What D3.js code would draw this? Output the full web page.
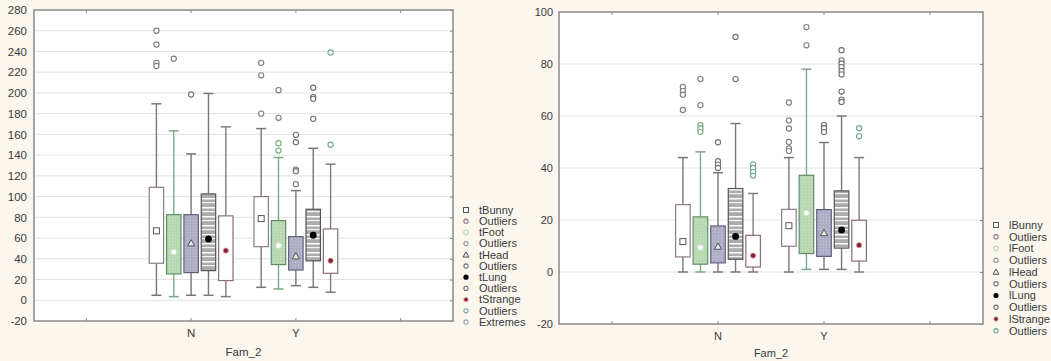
<!DOCTYPE html>
<html><head><meta charset="utf-8">
<script src="https://cdn.jsdelivr.net/npm/d3@7"></script>
<style>
html,body{margin:0;padding:0;background:#fbf7ee;}
svg{display:block;font-family:"Liberation Sans", Arial, sans-serif;}
</style></head><body>
<svg id="chart" width="1051" height="361"></svg>
<script>
// Grouping variable and its categories
const categories = ["N", "Y"];
const axisTitle = "Fam_2";

// Box statistics per category [N, Y]: [min, q1, median, q3, max]
const tBunny   = [[4.8, 35.7, 67, 109, 189.5], [12.5, 51.7, 78.8, 100, 165.6]];
const tFoot    = [[3.5, 25.4, 46.6, 82.6, 163.4], [10.9, 34.4, 52.7, 76.9, 137.7]];
const tHead    = [[4.8, 26.7, 55, 82.6, 141.2], [14.1, 29.2, 42.5, 61.4, 105.8]];
const tLung    = [[4.8, 28.6, 59.2, 102.6, 199.5], [12.5, 38, 62.7, 87.8, 146.6]];
const tStrange = [[3.5, 19, 47.9, 81.4, 167.3], [7.7, 26, 38.2, 68.8, 131.3]];

// Outliers (series coloured) and extremes (grey) per category [N, Y]
const tBunnyOut   = [[260, 246.7, 229, 226], [229, 217, 180]];
const tFootOut    = [[], [151.5, 144.4]];
const tFootExt    = [[233], [202.7, 176]];
const tHeadOut    = [[198.5], [159.5, 152.5, 126, 124.5, 112]];
const tLungOut    = [[], [205, 196, 194.3, 175]];
const tStrangeOut = [[], [239, 150]];

const lBunny   = [[0, 5.8, 11.7, 25.9, 44], [0, 9.9, 17.8, 24.1, 44]];
const lFoot    = [[0, 3, 9.4, 21.2, 46.2], [1, 7.1, 22.7, 37.2, 78]];
const lHead    = [[0, 3.5, 9.8, 17.7, 38.2], [1, 6, 15, 24, 49.8]];
const lLung    = [[0, 4.9, 13.7, 32.1, 57.1], [1, 9.2, 16.2, 31.2, 60]];
const lStrange = [[0, 1.9, 6.3, 14.1, 30.2], [0, 4.2, 10.3, 19.9, 44]];

const lBunnyOut   = [[71.2, 69.6, 68.2, 62.3], [65.2, 58.3, 55.2, 50, 47.5, 46.5]];
const lFootOut    = [[56.5, 55.2, 53.9], []];
const lFootExt    = [[74.2, 64.2], [94.2, 87.2]];
const lHeadOut    = [[49.9, 42.6, 41.3, 40], [56.5, 55.3, 53.8]];
const lLungOut    = [[90.4, 74.2], [85.3, 81.4, 80.2, 78.8, 77.3, 76, 69.4, 66.3, 65.4]];
const lStrangeOut = [[41.4, 40, 38.5, 37.1], [55.3, 52.2]];

// Axis ticks
const tTicks = [-20, 0, 20, 40, 60, 80, 100, 120, 140, 160, 180, 200, 220, 240, 260, 280];
const lTicks = [-20, 0, 20, 40, 60, 80, 100];

// Legend labels
const tLegend = ["tBunny", "Outliers", "tFoot", "Outliers", "tHead", "Outliers", "tLung", "Outliers", "tStrange", "Outliers", "Extremes"];
const lLegend = ["lBunny", "Outliers", "lFoot", "Outliers", "lHead", "Outliers", "lLung", "Outliers", "lStrange", "Outliers"];

// ---------- styles ----------
const kinds = ["bunny", "foot", "head", "lung", "strange"];
const boxStyle = {
  bunny:   {fill: "#ffffff", stroke: "#8c7c86", whisker: "#777777", out: "#857880"},
  foot:    {fill: "url(#patFoot)", stroke: "#5f8f67", whisker: "#7ea886", out: "#72a877"},
  head:    {fill: "url(#patHead)", stroke: "#60607e", whisker: "#777777", out: "#727278"},
  lung:    {fill: "url(#patLung)", stroke: "#555555", whisker: "#777777", out: "#6e6e6e"},
  strange: {fill: "#ffffff", stroke: "#8c6c76", whisker: "#857a80", out: "#6fa894"}
};
const extColor = "#7c7c7c";

const svg = d3.select("#chart");
const defs = svg.append("defs");

// fine green texture
const pf = defs.append("pattern").attr("id", "patFoot").attr("patternUnits", "userSpaceOnUse")
  .attr("width", 3).attr("height", 3);
pf.append("rect").attr("width", 3).attr("height", 3).attr("fill", "#b8d8b2");
pf.append("rect").attr("x", 1).attr("y", 1).attr("width", 1).attr("height", 1).attr("fill", "#cfe5cb");
// fine lavender texture
const ph = defs.append("pattern").attr("id", "patHead").attr("patternUnits", "userSpaceOnUse")
  .attr("width", 3).attr("height", 3);
ph.append("rect").attr("width", 3).attr("height", 3).attr("fill", "#adadc6");
ph.append("rect").attr("x", 1).attr("y", 1).attr("width", 1).attr("height", 1).attr("fill", "#c6c6da");
// horizontal stripes
const pl = defs.append("pattern").attr("id", "patLung").attr("patternUnits", "userSpaceOnUse")
  .attr("width", 6).attr("height", 9);
pl.append("rect").attr("width", 6).attr("height", 9).attr("fill", "#acacac");
pl.append("rect").attr("y", 0).attr("width", 6).attr("height", 1.5).attr("fill", "#ffffff");
pl.append("rect").attr("y", 4).attr("width", 6).attr("height", 1.2).attr("fill", "#f4f4f4");

function marker(g, kind, cx, cy, legend) {
  if (kind === "bunny") {
    const s = legend ? 5 : 6;
    g.append("rect").attr("x", cx - s / 2).attr("y", cy - s / 2).attr("width", s).attr("height", s)
      .attr("fill", "#ffffff").attr("stroke", "#555").attr("stroke-width", 1);
  } else if (kind === "foot") {
    g.append("circle").attr("cx", cx).attr("cy", cy).attr("r", legend ? 2.3 : 3)
      .attr("fill", "#ffffff").attr("stroke", legend ? "#a8c8a6" : "#c7dcc4").attr("stroke-width", 1);
  } else if (kind === "head") {
    const s = legend ? 3 : 3.6;
    g.append("path").attr("d", `M${cx},${cy - s} L${cx + s},${cy + s * 0.75} L${cx - s},${cy + s * 0.75} Z`)
      .attr("fill", "#e8e8f0").attr("stroke", "#555").attr("stroke-width", 1);
  } else if (kind === "lung") {
    g.append("circle").attr("cx", cx).attr("cy", cy).attr("r", legend ? 2.6 : 3.4).attr("fill", "#000");
  } else if (kind === "strange") {
    g.append("circle").attr("cx", cx).attr("cy", cy).attr("r", legend ? 2.2 : 2.6)
      .attr("fill", "#8e1e32").attr("stroke", "#d4a0a8").attr("stroke-width", 0.8);
  }
}

function ring(g, cx, cy, color, r) {
  g.append("circle").attr("cx", cx).attr("cy", cy).attr("r", r || 2.6)
    .attr("fill", "#ffffff").attr("stroke", color).attr("stroke-width", 1.1);
}

function drawPanel(cfg) {
  const g = svg.append("g");
  const y = d3.scaleLinear().domain(cfg.domain).range([cfg.y1, cfg.y0]);
  const x = d3.scaleBand().domain(d3.range(4)).range([cfg.x0, cfg.x1]);
  const bw = x.bandwidth();
  const inner = d3.scaleBand().domain(kinds).range([-0.4 * bw, 0.4 * bw]).paddingInner(0.17);
  const slotOf = c => categories.indexOf(c) + 1;

  // plot background
  g.append("rect").attr("x", cfg.x0).attr("y", cfg.y0).attr("width", cfg.x1 - cfg.x0)
    .attr("height", cfg.y1 - cfg.y0).attr("fill", "#ffffff");

  // horizontal grid
  g.append("g").selectAll("line").data(cfg.ticks.filter(t => t > cfg.domain[0] && t < cfg.domain[1]))
    .join("line").attr("x1", cfg.x0).attr("x2", cfg.x1)
    .attr("y1", d => y(d)).attr("y2", d => y(d))
    .attr("stroke", "#e2e2e2").attr("stroke-width", 1);

  // y labels (plain hyphen for negatives)
  const ya = g.append("g").attr("transform", `translate(${cfg.x0},0)`)
    .call(d3.axisLeft(y).tickValues(cfg.ticks).tickSize(0).tickPadding(cfg.labelPad).tickFormat(d => String(d)));
  ya.select(".domain").remove();
  ya.selectAll("text").attr("font-size", cfg.fs).attr("fill", "#3a3a3a")
    .attr("font-family", "'Liberation Sans', Arial, sans-serif");

  // right inner ticks
  const yr = g.append("g").attr("transform", `translate(${cfg.x1},0)`)
    .call(d3.axisRight(y).tickValues(cfg.ticks).tickSize(-3).tickFormat(""));
  yr.select(".domain").remove();
  yr.selectAll("line").attr("stroke", "#888");

  // category axis (bottom) and top ticks
  const xb = g.append("g").attr("transform", `translate(0,${cfg.y1})`)
    .call(d3.axisBottom(x).tickSize(-3).tickPadding(cfg.catPad).tickFormat(i => i === 1 ? categories[0] : i === 2 ? categories[1] : ""));
  xb.select(".domain").remove();
  xb.selectAll("line").attr("stroke", "#888");
  xb.selectAll("text").attr("font-size", cfg.fs).attr("fill", "#3a3a3a")
    .attr("font-family", "'Liberation Sans', Arial, sans-serif");
  const xt = g.append("g").attr("transform", `translate(0,${cfg.y0})`)
    .call(d3.axisTop(x).tickSize(-3).tickFormat(""));
  xt.select(".domain").remove();
  xt.selectAll("line").attr("stroke", "#888");

  // axis title
  g.append("text").attr("x", (cfg.x0 + cfg.x1) / 2).attr("y", cfg.titleY)
    .attr("text-anchor", "middle").attr("font-size", cfg.fs).attr("fill", "#3a3a3a").text(axisTitle);

  // boxes
  const boxW = inner.bandwidth();
  const capW = 10;
  cfg.series.forEach(s => {
    const st = boxStyle[s.kind];
    categories.forEach((c, ci) => {
      const [mn, q1, md, q3, mx] = s.stats[ci];
      const cx = x(slotOf(c)) + bw / 2 + inner(s.kind) + boxW / 2;
      const bg = g.append("g");
      bg.append("line").attr("x1", cx).attr("x2", cx).attr("y1", y(mx)).attr("y2", y(q3))
        .attr("stroke", st.whisker).attr("stroke-width", 1.4);
      bg.append("line").attr("x1", cx).attr("x2", cx).attr("y1", y(q1)).attr("y2", y(mn))
        .attr("stroke", st.whisker).attr("stroke-width", 1.4);
      [mx, mn].forEach(v => bg.append("line").attr("x1", cx - capW / 2).attr("x2", cx + capW / 2)
        .attr("y1", y(v)).attr("y2", y(v)).attr("stroke", st.whisker).attr("stroke-width", 1.5));
      bg.append("rect").attr("x", cx - boxW / 2).attr("y", y(q3)).attr("width", boxW)
        .attr("height", y(q1) - y(q3)).attr("fill", st.fill).attr("stroke", st.stroke).attr("stroke-width", 1.2);
      marker(bg, s.kind, cx, y(md), false);
      (s.ext ? s.ext[ci] : []).forEach(v => ring(bg, cx, y(v), extColor));
      (s.out ? s.out[ci] : []).forEach(v => ring(bg, cx, y(v), st.out));
    });
  });

  // frame
  g.append("rect").attr("x", cfg.x0).attr("y", cfg.y0).attr("width", cfg.x1 - cfg.x0)
    .attr("height", cfg.y1 - cfg.y0).attr("fill", "none").attr("stroke", "#8a8a8a").attr("stroke-width", 1.5);

  // legend
  const lg = g.append("g");
  const legKinds = ["bunny", "o:bunny", "foot", "o:ext", "head", "o:head", "lung", "o:lung", "strange", "o:strange", "o:extStrange"];
  cfg.legend.forEach((label, i) => {
    const ly = cfg.legY + i * cfg.legStep;
    const k = legKinds[i];
    if (k.startsWith("o:")) {
      const key = k.slice(2);
      const col = key === "ext" ? "#909090" : key === "extStrange" ? "#8fae9f" : boxStyle[key].out;
      ring(lg, cfg.legX, ly, col, 2.1);
    } else {
      marker(lg, k, cfg.legX, ly, true);
    }
    lg.append("text").attr("x", cfg.legX + 13).attr("y", ly).attr("dy", "0.35em")
      .attr("font-size", cfg.legFs).attr("fill", "#3a3a3a").text(label);
  });
}

drawPanel({
  x0: 34, x1: 453, y0: 10, y1: 321, domain: [-20, 280], ticks: tTicks,
  fs: 11.5, labelPad: 7, catPad: 8, titleY: 356,
  legend: tLegend, legX: 466, legY: 210, legStep: 11.2, legFs: 11,
  series: [
    {kind: "bunny", stats: tBunny, out: tBunnyOut},
    {kind: "foot", stats: tFoot, out: tFootOut, ext: tFootExt},
    {kind: "head", stats: tHead, out: tHeadOut},
    {kind: "lung", stats: tLung, out: tLungOut},
    {kind: "strange", stats: tStrange, out: tStrangeOut}
  ]
});

drawPanel({
  x0: 559, x1: 983, y0: 12, y1: 324, domain: [-20, 100], ticks: lTicks,
  fs: 11, labelPad: 6, catPad: 8, titleY: 357,
  legend: lLegend, legX: 996, legY: 225, legStep: 11.75, legFs: 11,
  series: [
    {kind: "bunny", stats: lBunny, out: lBunnyOut},
    {kind: "foot", stats: lFoot, out: lFootOut, ext: lFootExt},
    {kind: "head", stats: lHead, out: lHeadOut},
    {kind: "lung", stats: lLung, out: lLungOut},
    {kind: "strange", stats: lStrange, out: lStrangeOut}
  ]
});
</script>
</body></html>
